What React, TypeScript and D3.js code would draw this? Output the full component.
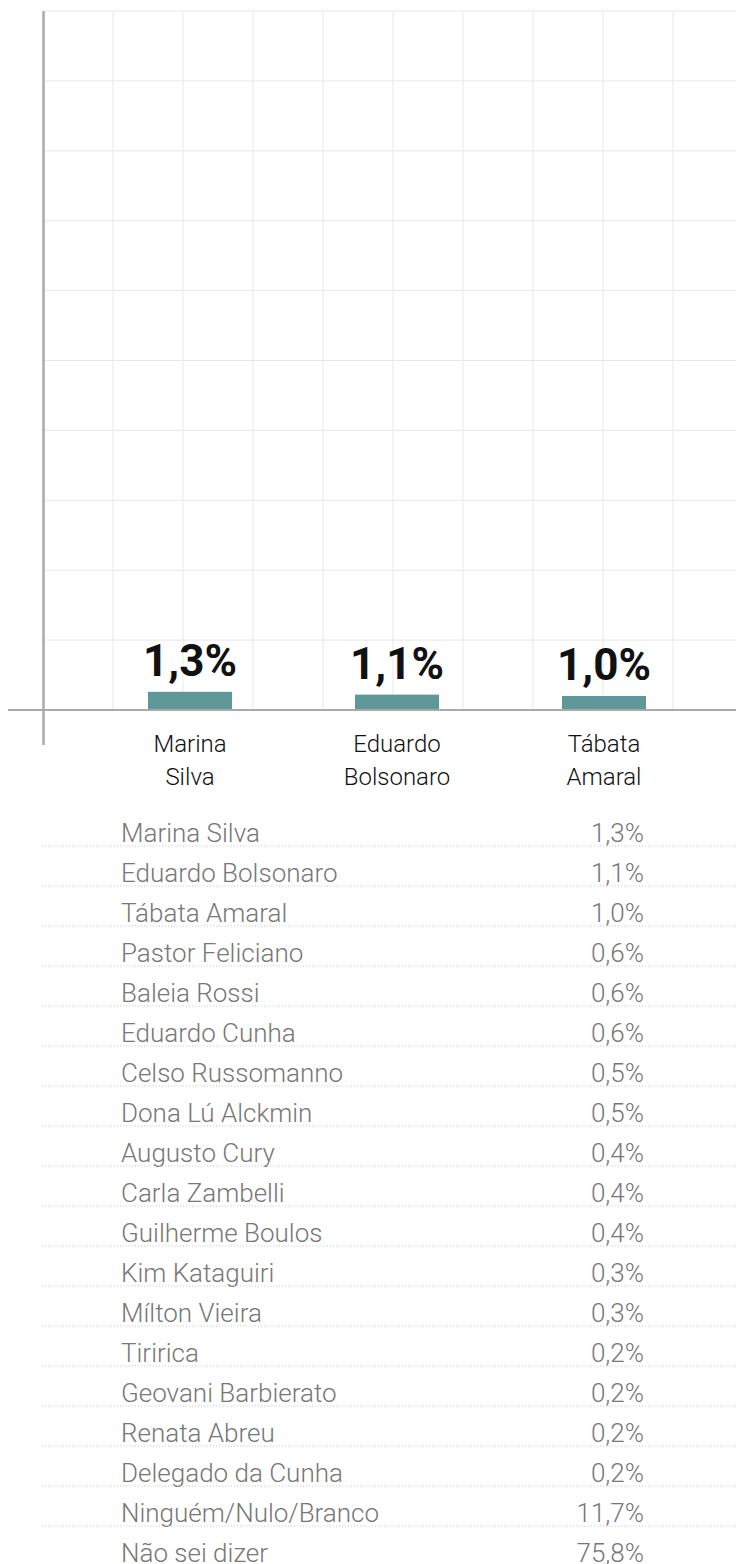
import React from "react";
import * as d3 from "d3";

const categories = ["Marina Silva", "Eduardo Bolsonaro", "Tábata Amaral"];
const categoryLines = [["Marina", "Silva"], ["Eduardo", "Bolsonaro"], ["Tábata", "Amaral"]];
const barValues = [1.3, 1.1, 1.0];

const tableNames = [
  "Marina Silva", "Eduardo Bolsonaro", "Tábata Amaral", "Pastor Feliciano", "Baleia Rossi",
  "Eduardo Cunha", "Celso Russomanno", "Dona Lú Alckmin", "Augusto Cury", "Carla Zambelli",
  "Guilherme Boulos", "Kim Kataguiri", "Mílton Vieira", "Tiririca", "Geovani Barbierato",
  "Renata Abreu", "Delegado da Cunha", "Ninguém/Nulo/Branco", "Não sei dizer",
];
const tableValues = [
  1.3, 1.1, 1.0, 0.6, 0.6, 0.6, 0.5, 0.5, 0.4, 0.4, 0.4, 0.3, 0.3, 0.2, 0.2, 0.2, 0.2, 11.7, 75.8,
];

const W = 736;
const H = 1564;
const FONT = "Roboto, 'Open Sans', sans-serif";

const fmt = (v: number) => v.toFixed(1).replace(".", ",") + "%";

export default function App() {
  const y = d3.scaleLinear().domain([0, 50]).range([710, 11]);
  const gridX = d3.scaleLinear().domain([0, 10]).range([43, 743]);
  const x = d3.scaleBand<string>().domain(categories).range([86.5, 707.5]).padding(0);
  const barW = 84;
  const rowY = d3.scaleLinear().domain([0, 1]).range([842, 882]);

  return (
    <svg width={W} height={H} style={{ position: "absolute", left: 0, top: 0, background: "#fff" }}>
      {/* grid */}
      <g>
        {y.ticks(10).filter((t) => t > 0).map((t) => (
          <line key={"h" + t} x1={43} x2={W} y1={y(t)} y2={y(t)} stroke="#e8e8e8" strokeWidth={1} />
        ))}
        {gridX.ticks(10).filter((t) => t > 0 && gridX(t) < W).map((t) => (
          <line key={"v" + t} x1={gridX(t)} x2={gridX(t)} y1={y(50)} y2={y(0)} stroke="#e8e8e8" strokeWidth={1} />
        ))}
      </g>
      {/* bars */}
      {categories.map((c, i) => {
        const cx = (x(c) as number) + x.bandwidth() / 2;
        const top = y(barValues[i]);
        return (
          <g key={c}>
            <rect x={cx - barW / 2} y={top} width={barW} height={y(0) - top} fill="#5f9898" />
            <text x={cx} y={top - 16} textAnchor="middle" fontFamily={FONT} fontWeight={700} fontSize={44} fill="#111">
              {fmt(barValues[i])}
            </text>
            {categoryLines[i].map((ln, j) => (
              <text key={j} x={cx} y={752 + j * 33} textAnchor="middle" fontFamily={FONT} fontWeight={300} fontSize={24} fill="#111">
                {ln}
              </text>
            ))}
          </g>
        );
      })}
      {/* axes */}
      <line x1={8} x2={W} y1={y(0)} y2={y(0)} stroke="#aaaaad" strokeWidth={2} />
      <line x1={43.5} x2={43.5} y1={y(50)} y2={745} stroke="#aaaaad" strokeWidth={2.5} />
      {/* table */}
      {tableNames.map((n, i) => {
        const by = rowY(i);
        return (
          <g key={n}>
            <text x={121} y={by} fontFamily={FONT} fontWeight={300} fontSize={26} fill="#777">{n}</text>
            <text x={644} y={by} textAnchor="end" fontFamily={FONT} fontWeight={300} fontSize={26} fill="#777">{fmt(tableValues[i])}</text>
            <line x1={42} x2={W} y1={by + 4} y2={by + 4} stroke="#c8c8c8" strokeWidth={1} strokeDasharray="1,2" />
          </g>
        );
      })}
    </svg>
  );
}
